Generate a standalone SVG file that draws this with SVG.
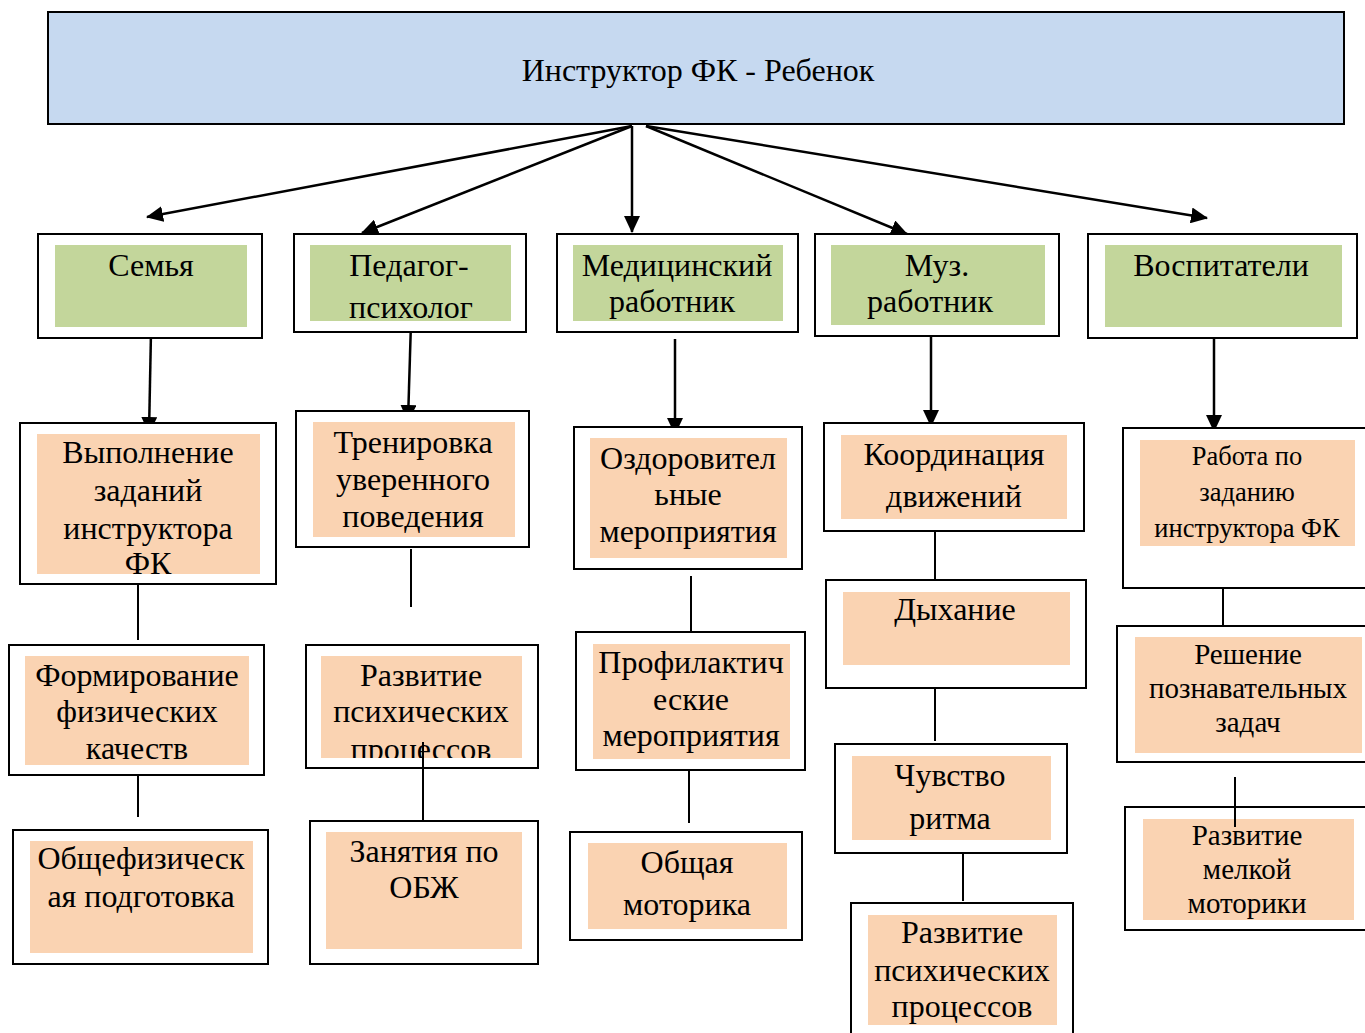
<svg xmlns="http://www.w3.org/2000/svg" width="1365" height="1033" viewBox="0 0 1365 1033" font-family="'Liberation Serif', 'DejaVu Serif', serif">
<style>
.o{fill:#fff;stroke:#000;stroke-width:2}
.g{fill:#c3d69b}
.p{fill:#fad3b2}
text{font-family:'Liberation Serif','DejaVu Serif',serif;font-size:32px;fill:#000;text-anchor:middle}
.s{font-size:26.5px}
.m{font-size:29px}
.c{stroke:#000;stroke-width:2;fill:none}
.a{stroke:#000;stroke-width:2.5;fill:none;marker-end:url(#ah)}
</style>
<defs>
<marker id="ah" markerUnits="userSpaceOnUse" markerWidth="17" markerHeight="16" refX="16" refY="8" orient="auto">
<path d="M0,0 L17,8 L0,16 Z" fill="#000"/>
</marker>
<clipPath id="cl2"><rect x="321" y="656" width="201" height="102"/></clipPath>
<clipPath id="cl1"><rect x="310" y="245" width="200" height="77"/></clipPath>
</defs>

<g id="top">
<rect x="48" y="12" width="1296" height="112" fill="#c6d9f0" stroke="#000" stroke-width="2"/>
<text x="698" y="81">Инструктор ФК - Ребенок</text>
</g>

<g id="connectors">
<line class="a" x1="632" y1="126" x2="147" y2="217"/>
<line class="a" x1="632" y1="126" x2="362" y2="233"/>
<line class="a" x1="632" y1="126" x2="632" y2="232"/>
<line class="a" x1="646" y1="126" x2="907" y2="234"/>
<line class="a" x1="646" y1="126" x2="1207" y2="218"/>
<line class="a" x1="151" y1="332" x2="149" y2="433"/>
<line class="a" x1="411" y1="322" x2="408" y2="421"/>
<line class="a" x1="675" y1="339" x2="675" y2="434"/>
<line class="a" x1="931" y1="332" x2="931" y2="426"/>
<line class="a" x1="1214" y1="339" x2="1214" y2="431"/>
<line class="c" x1="138" y1="584" x2="138" y2="640"/>
<line class="c" x1="411" y1="549" x2="411" y2="607"/>
<line class="c" x1="691" y1="576" x2="691" y2="634"/>
<line class="c" x1="935" y1="519" x2="935" y2="580"/>
<line class="c" x1="1223" y1="576" x2="1223" y2="634"/>
<line class="c" x1="138" y1="775" x2="138" y2="817"/>
<line class="c" x1="689" y1="764" x2="689" y2="823"/>
<line class="c" x1="935" y1="682" x2="935" y2="741"/>
<line class="c" x1="963" y1="853" x2="963" y2="901"/>
</g>

<g id="n-semya">
<rect class="o" x="38" y="234" width="224" height="104"/>
<rect class="g" x="55" y="245" width="192" height="82"/>
<text x="151" y="276">Семья</text>
</g>
<g id="n-pedagog">
<rect class="o" x="294" y="234" width="232" height="98"/>
<rect class="g" x="310" y="245" width="201" height="76"/>
<g clip-path="url(#cl1)">
<text x="409" y="276">Педагог-</text>
<text x="411" y="318">психолог</text>
</g>
</g>
<g id="n-med">
<rect class="o" x="557" y="234" width="241" height="98"/>
<rect class="g" x="573" y="245" width="210" height="76"/>
<text x="677" y="276">Медицинский</text>
<text x="672" y="312">работник</text>
</g>
<g id="n-muz">
<rect class="o" x="815" y="234" width="244" height="102"/>
<rect class="g" x="831" y="245" width="214" height="80"/>
<text x="937" y="276">Муз.</text>
<text x="930" y="312">работник</text>
</g>
<g id="n-vosp">
<rect class="o" x="1088" y="234" width="269" height="104"/>
<rect class="g" x="1105" y="245" width="237" height="82"/>
<text x="1221" y="276">Воспитатели</text>
</g>

<g id="n-vypoln">
<rect class="o" x="20" y="423" width="256" height="161"/>
<rect class="p" x="37" y="434" width="223" height="140"/>
<text x="148" y="463">Выполнение</text>
<text x="148" y="501">заданий</text>
<text x="148" y="539">инструктора</text>
<text x="148" y="574">ФК</text>
</g>
<g id="n-trenir">
<rect class="o" x="296" y="411" width="233" height="136"/>
<rect class="p" x="313" y="422" width="202" height="115"/>
<text x="413" y="453">Тренировка</text>
<text x="413" y="490">уверенного</text>
<text x="413" y="527">поведения</text>
</g>
<g id="n-ozdor">
<rect class="o" x="574" y="427" width="228" height="142"/>
<rect class="p" x="590" y="438" width="197" height="120"/>
<text x="688" y="469">Оздоровител</text>
<text x="688" y="505">ьные</text>
<text x="688" y="542">мероприятия</text>
</g>
<g id="n-koord">
<rect class="o" x="824" y="423" width="260" height="108"/>
<rect class="p" x="841" y="435" width="226" height="84"/>
<text x="954" y="465">Координация</text>
<text x="954" y="507">движений</text>
</g>
<g id="n-rabota">
<rect class="o" x="1123" y="428" width="250" height="160"/>
<rect class="p" x="1140" y="440" width="215" height="106"/>
<text class="s" x="1247" y="465">Работа по</text>
<text class="s" x="1247" y="501">заданию</text>
<text class="s" x="1247" y="537">инструктора ФК</text>
</g>

<g id="n-formir">
<rect class="o" x="9" y="645" width="255" height="130"/>
<rect class="p" x="25" y="656" width="224" height="109"/>
<text x="137" y="686">Формирование</text>
<text x="137" y="722">физических</text>
<text x="137" y="759">качеств</text>
</g>
<g id="n-razv1">
<rect class="o" x="306" y="645" width="232" height="123"/>
<rect class="p" x="321" y="656" width="201" height="102"/>
<g clip-path="url(#cl2)">
<text x="421" y="686">Развитие</text>
<text x="421" y="722">психических</text>
<text x="421" y="760">процессов</text>
</g>
</g>
<line class="c" x1="423" y1="742" x2="423" y2="821"/>
<g id="n-profil">
<rect class="o" x="576" y="632" width="229" height="138"/>
<rect class="p" x="593" y="644" width="197" height="115"/>
<text x="691" y="673">Профилактич</text>
<text x="691" y="710">еские</text>
<text x="691" y="746">мероприятия</text>
</g>
<g id="n-dyh">
<rect class="o" x="826" y="580" width="260" height="108"/>
<rect class="p" x="843" y="592" width="227" height="73"/>
<text x="955" y="620">Дыхание</text>
</g>
<g id="n-resh">
<rect class="o" x="1117" y="626" width="260" height="136"/>
<rect class="p" x="1135" y="637" width="227" height="116"/>
<text class="m" x="1248" y="664">Решение</text>
<text class="m" x="1248" y="698">познавательных</text>
<text class="m" x="1248" y="732">задач</text>
</g>

<g id="n-obshefiz">
<rect class="o" x="13" y="830" width="255" height="134"/>
<rect class="p" x="30" y="841" width="223" height="112"/>
<text x="141" y="869">Общефизическ</text>
<text x="141" y="907">ая подготовка</text>
</g>
<g id="n-obzh">
<rect class="o" x="310" y="821" width="228" height="143"/>
<rect class="p" x="326" y="832" width="196" height="117"/>
<text x="424" y="862">Занятия по</text>
<text x="424" y="898">ОБЖ</text>
</g>
<g id="n-motor">
<rect class="o" x="570" y="832" width="232" height="108"/>
<rect class="p" x="588" y="843" width="199" height="86"/>
<text x="687" y="873">Общая</text>
<text x="687" y="915">моторика</text>
</g>
<g id="n-ritm">
<rect class="o" x="835" y="744" width="232" height="109"/>
<rect class="p" x="852" y="756" width="199" height="84"/>
<text x="950" y="786">Чувство</text>
<text x="950" y="829">ритма</text>
</g>
<g id="n-melk">
<rect class="o" x="1125" y="807" width="250" height="123"/>
<rect class="p" x="1143" y="819" width="211" height="101"/>
<text class="m" x="1247" y="845">Развитие</text>
<text class="m" x="1247" y="879">мелкой</text>
<text class="m" x="1247" y="913">моторики</text>
</g>
<line class="c" x1="1235" y1="777" x2="1235" y2="827"/>
<g id="n-razv2">
<rect class="o" x="851" y="903" width="222" height="140"/>
<rect class="p" x="868" y="915" width="189" height="110"/>
<text x="962" y="943">Развитие</text>
<text x="962" y="981">психических</text>
<text x="962" y="1017">процессов</text>
</g>
</svg>
